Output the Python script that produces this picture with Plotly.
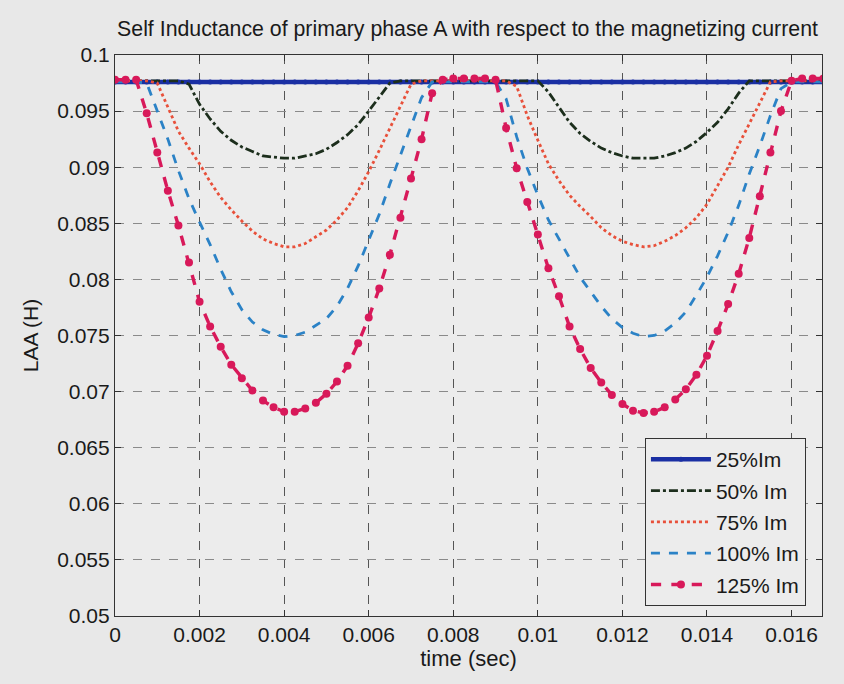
import plotly.graph_objects as go

# time samples (ms)
time_ms = [0.0, 0.25, 0.5, 0.75, 1.0, 1.25, 1.5, 1.75, 2.0, 2.25, 2.5, 2.75,
           3.0, 3.25, 3.5, 3.75, 4.0, 4.25, 4.5, 4.75, 5.0, 5.25, 5.5, 5.75,
           6.0, 6.25, 6.5, 6.75, 7.0, 7.25, 7.5, 7.75, 8.0, 8.25, 8.5, 8.75,
           9.0, 9.25, 9.5, 9.75, 10.0, 10.25, 10.5, 10.75, 11.0, 11.25, 11.5, 11.75,
           12.0, 12.25, 12.5, 12.75, 13.0, 13.25, 13.5, 13.75, 14.0, 14.25, 14.5, 14.75,
           15.0, 15.25, 15.5, 15.75, 16.0, 16.25, 16.5, 16.75]

L25 = [0.0976, 0.0976, 0.0976, 0.0976, 0.0976, 0.0976, 0.0976, 0.0976, 0.0976, 0.0976, 0.0976, 0.0976,
       0.0976, 0.0976, 0.0976, 0.0976, 0.0976, 0.0976, 0.0976, 0.0976, 0.0976, 0.0976, 0.0976, 0.0976,
       0.0976, 0.0976, 0.0976, 0.0976, 0.0976, 0.0976, 0.0976, 0.0976, 0.0976, 0.0976, 0.0976, 0.0976,
       0.0976, 0.0976, 0.0976, 0.0976, 0.0976, 0.0976, 0.0976, 0.0976, 0.0976, 0.0976, 0.0976, 0.0976,
       0.0976, 0.0976, 0.0976, 0.0976, 0.0976, 0.0976, 0.0976, 0.0976, 0.0976, 0.0976, 0.0976, 0.0976,
       0.0976, 0.0976, 0.0976, 0.0976, 0.0976, 0.0976, 0.0976, 0.0976]

L50 = [0.0977, 0.0977, 0.0977, 0.0977, 0.0977, 0.0977, 0.0977, 0.0974,
       0.0956, 0.0943, 0.0932, 0.0924, 0.0918, 0.0914, 0.0910, 0.0909, 0.0908, 0.0908,
       0.0910, 0.0912, 0.0916, 0.0922, 0.0929, 0.0938, 0.0950, 0.0963, 0.0975,
       0.0977,
       0.0977, 0.0977, 0.0977, 0.0977, 0.0977, 0.0977, 0.0977, 0.0977, 0.0977, 0.0977, 0.0977, 0.0977,
       0.0977,
       0.0967, 0.0953, 0.0940, 0.0930, 0.0923, 0.0917, 0.0913, 0.0910, 0.0908, 0.0908,
       0.0908, 0.0910, 0.0913, 0.0917, 0.0923, 0.0931, 0.0940, 0.0952, 0.0966,
       0.0977,
       0.0977, 0.0977, 0.0977, 0.0977, 0.0977, 0.0977, 0.0977]

L75 = [0.0977, 0.0977, 0.0977, 0.0977,
       0.0975, 0.0953, 0.0932, 0.0917, 0.0903, 0.0887, 0.0873, 0.0862, 0.0852, 0.0843,
       0.0836, 0.0832, 0.0829, 0.0829, 0.0832, 0.0838, 0.0844, 0.0853, 0.0864, 0.0879,
       0.0896, 0.0915, 0.0935, 0.0954, 0.0974, 0.0977,
       0.0977, 0.0977, 0.0977, 0.0977, 0.0977, 0.0977, 0.0977, 0.0977,
       0.0972, 0.0946, 0.0924, 0.0903, 0.0888, 0.0875, 0.0865, 0.0856, 0.0846, 0.0839,
       0.0834, 0.0831, 0.0829, 0.0830, 0.0834, 0.0839, 0.0846, 0.0855, 0.0867, 0.0883,
       0.0900, 0.0920, 0.0939, 0.0958, 0.0976, 0.0977,
       0.0977, 0.0977, 0.0977, 0.0977]

L100 = [0.0976, 0.0976, 0.0976, 0.0975, 0.0950, 0.0925, 0.0897, 0.0872, 0.0851, 0.0831,
        0.0809, 0.0789, 0.0773, 0.0762, 0.0755, 0.0751, 0.0749, 0.0750, 0.0753, 0.0759,
        0.0765, 0.0776, 0.0792, 0.0812, 0.0835, 0.0858, 0.0885, 0.0911, 0.0937, 0.0962,
        0.0976,
        0.0976, 0.0976, 0.0976, 0.0976, 0.0976, 0.0976,
        0.0961, 0.0927, 0.0899, 0.0875, 0.0853, 0.0836, 0.0820, 0.0802, 0.0789, 0.0776,
        0.0765, 0.0757, 0.0752, 0.0749, 0.0750, 0.0754, 0.0761, 0.0771, 0.0786, 0.0802,
        0.0821, 0.0842, 0.0866, 0.0894, 0.0919, 0.0946, 0.0970, 0.0976, 0.0976, 0.0976,
        0.0976]

L125 = [0.0978, 0.0978, 0.0978,
        0.0948, 0.0913, 0.0879, 0.0848, 0.0815, 0.0780, 0.0758, 0.0740, 0.0724, 0.0712,
        0.0701, 0.0692, 0.0686, 0.0682, 0.0682, 0.0685, 0.0690, 0.0698, 0.0709, 0.0723,
        0.0743, 0.0766, 0.0792, 0.0822, 0.0855, 0.0890, 0.0925, 0.0966,
        0.0978, 0.0979, 0.0979, 0.0979, 0.0979, 0.0978,
        0.0935, 0.0899, 0.0869, 0.0840, 0.0810, 0.0785, 0.0758, 0.0738, 0.0721, 0.0708,
        0.0697, 0.0689, 0.0683, 0.0681, 0.0682, 0.0686, 0.0693, 0.0702, 0.0715, 0.0732,
        0.0754, 0.0778, 0.0805, 0.0837, 0.0874, 0.0913, 0.0950, 0.0977, 0.0979, 0.0979,
        0.0979]

series_names = ["25%Im", "50% Im", "75% Im", "100% Im", "125% Im"]
x_tick_vals = [0, 0.002, 0.004, 0.006, 0.008, 0.01, 0.012, 0.014, 0.016]
x_tick_text = ["0", "0.002", "0.004", "0.006", "0.008", "0.01", "0.012", "0.014", "0.016"]
y_tick_vals = [0.05, 0.055, 0.06, 0.065, 0.07, 0.075, 0.08, 0.085, 0.09, 0.095, 0.1]
y_tick_text = ["0.05", "0.055", "0.06", "0.065", "0.07", "0.075", "0.08", "0.085", "0.09", "0.095", "0.1"]

t_sec = [v / 1000.0 for v in time_ms]

FONT = "Liberation Sans, Arial, sans-serif"

fig = go.Figure()

styles = [
    dict(data=L25, color="#1a2fa3", dash="solid", width=4.5, mode="lines+markers",
         marker=dict(symbol="circle", size=5, color="#1a2fa3")),
    dict(data=L50, color="#1c2e1c", dash="dashdot", width=2.8, mode="lines", marker=None),
    dict(data=L75, color="#e8503a", dash="dot", width=2.8, mode="lines", marker=None),
    dict(data=L100, color="#2b82c6", dash="dash", width=2.8, mode="lines", marker=None),
    dict(data=L125, color="#d8195a", dash="dash", width=3.4, mode="lines+markers",
         marker=dict(symbol="circle", size=8, color="#d8195a")),
]

for name, st in zip(series_names, styles):
    kw = dict(x=t_sec, y=st["data"], name=name, mode=st["mode"],
              line=dict(color=st["color"], dash=st["dash"], width=st["width"]),
              legendgroup=name)
    if st["marker"] is not None:
        kw["marker"] = st["marker"]
    fig.add_trace(go.Scatter(**kw))

fig.update_layout(
    width=844, height=684,
    paper_bgcolor="#e8e8e8",
    plot_bgcolor="#ececec",
    margin=dict(l=115, r=22, t=55, b=68),
    font=dict(family=FONT, size=21, color="#1a1a1a"),
    title=dict(text="Self Inductance of primary phase A with respect to the magnetizing current",
               x=(117 + 818) / 2 / 844, xanchor="center", xref="container",
               y=1 - 29 / 684, yanchor="middle", yref="container",
               font=dict(size=21.3, family=FONT, color="#1a1a1a")),
    showlegend=True,
    legend=dict(x=0.977, y=0.018, xanchor="right", yanchor="bottom",
                bgcolor="#ececec", bordercolor="#333333", borderwidth=1.2,
                font=dict(size=21, family=FONT, color="#1a1a1a"),
                traceorder="grouped", tracegroupgap=1, itemwidth=60),
)

fig.update_xaxes(
    range=[0, 0.01672], tickvals=x_tick_vals, ticktext=x_tick_text,
    showline=True, linecolor="#333333", linewidth=1.2, mirror="ticks",
    ticks="inside", ticklen=6, tickcolor="#333333",
    showgrid=True, gridcolor="#555555", griddash="dash", gridwidth=1,
    zeroline=False,
    tickfont=dict(size=21, family=FONT),
    title=dict(text="time (sec)", font=dict(size=22, family=FONT), standoff=4),
)
fig.update_yaxes(
    range=[0.05, 0.1], tickvals=y_tick_vals, ticktext=y_tick_text,
    showline=True, linecolor="#333333", linewidth=1.2, mirror="ticks",
    ticks="inside", ticklen=6, tickcolor="#333333",
    showgrid=True, gridcolor="#8a8a8a", griddash="dash", gridwidth=1,
    zeroline=False,
    tickfont=dict(size=21, family=FONT),
    title=dict(text="LAA (H)", font=dict(size=21, family=FONT), standoff=12),
)

fig.write_html("out.html")
